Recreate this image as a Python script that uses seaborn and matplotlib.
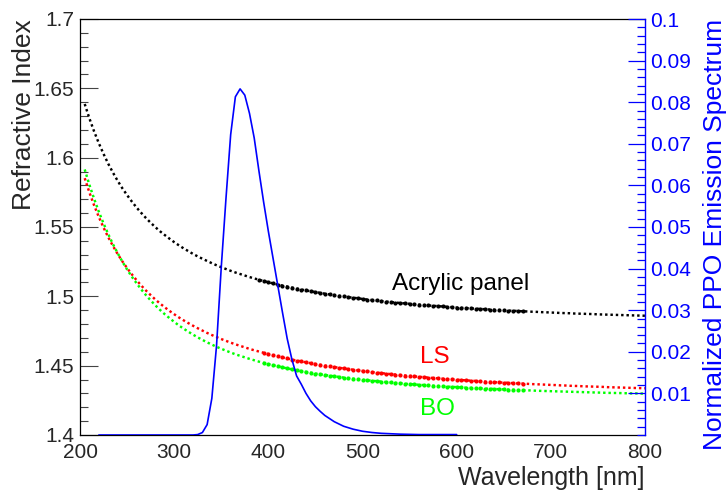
import numpy as np
import matplotlib
matplotlib.use("Agg")
import matplotlib.pyplot as plt
from matplotlib import ticker
import seaborn as sns

# Refractive index curves, sampled every 5 nm from 205 to 800 nm
wavelength_nm = np.arange(205, 801, 5)

n_acrylic = [
    1.6387, 1.6283, 1.6189, 1.6104, 1.6027, 1.5956, 1.5892, 1.5833, 1.5779, 1.5730,
    1.5684, 1.5641, 1.5602, 1.5565, 1.5531, 1.5499, 1.5469, 1.5442, 1.5416, 1.5391, 1.5368,
    1.5346, 1.5326, 1.5306, 1.5288, 1.5271, 1.5255, 1.5239, 1.5224, 1.5210, 1.5197, 1.5184,
    1.5172, 1.5161, 1.5150, 1.5139, 1.5129, 1.5120, 1.5110, 1.5102, 1.5093, 1.5085, 1.5077,
    1.5070, 1.5063, 1.5056, 1.5049, 1.5043, 1.5036, 1.5031, 1.5025, 1.5019, 1.5014, 1.5009,
    1.5004, 1.4999, 1.4994, 1.4990, 1.4986, 1.4981, 1.4977, 1.4973, 1.4970, 1.4966, 1.4962,
    1.4959, 1.4955, 1.4952, 1.4949, 1.4946, 1.4943, 1.4940, 1.4937, 1.4934, 1.4932, 1.4929,
    1.4927, 1.4924, 1.4922, 1.4919, 1.4917, 1.4915, 1.4913, 1.4911, 1.4909, 1.4907, 1.4905,
    1.4903, 1.4901, 1.4899, 1.4897, 1.4896, 1.4894, 1.4892, 1.4891, 1.4889, 1.4888, 1.4886,
    1.4885, 1.4883, 1.4882, 1.4880, 1.4879, 1.4878, 1.4876, 1.4875, 1.4874, 1.4873, 1.4872,
    1.4870, 1.4869, 1.4868, 1.4867, 1.4866, 1.4865, 1.4864, 1.4863, 1.4862, 1.4861, 1.4860,
]

n_ls = [
    1.5852, 1.5749, 1.5656, 1.5572, 1.5496, 1.5426, 1.5363, 1.5305, 1.5252, 1.5204,
    1.5159, 1.5117, 1.5078, 1.5042, 1.5009, 1.4977, 1.4948, 1.4921, 1.4895, 1.4871, 1.4848,
    1.4827, 1.4807, 1.4788, 1.4770, 1.4753, 1.4736, 1.4721, 1.4706, 1.4692, 1.4679, 1.4666,
    1.4654, 1.4643, 1.4632, 1.4621, 1.4611, 1.4602, 1.4593, 1.4584, 1.4575, 1.4567, 1.4559,
    1.4552, 1.4544, 1.4537, 1.4531, 1.4524, 1.4518, 1.4512, 1.4506, 1.4501, 1.4495, 1.4490,
    1.4485, 1.4480, 1.4475, 1.4471, 1.4466, 1.4462, 1.4458, 1.4454, 1.4450, 1.4446, 1.4443,
    1.4439, 1.4436, 1.4432, 1.4429, 1.4426, 1.4423, 1.4420, 1.4417, 1.4414, 1.4411, 1.4409,
    1.4406, 1.4403, 1.4401, 1.4399, 1.4396, 1.4394, 1.4392, 1.4390, 1.4387, 1.4385, 1.4383,
    1.4381, 1.4379, 1.4378, 1.4376, 1.4374, 1.4372, 1.4371, 1.4369, 1.4367, 1.4366, 1.4364,
    1.4363, 1.4361, 1.4360, 1.4358, 1.4357, 1.4355, 1.4354, 1.4353, 1.4351, 1.4350, 1.4349,
    1.4348, 1.4347, 1.4345, 1.4344, 1.4343, 1.4342, 1.4341, 1.4340, 1.4339, 1.4338, 1.4337,
]

n_bo = [
    1.5915, 1.5804, 1.5703, 1.5610, 1.5526, 1.5448, 1.5376, 1.5311, 1.5250, 1.5194,
    1.5142, 1.5095, 1.5050, 1.5009, 1.4971, 1.4935, 1.4902, 1.4871, 1.4843, 1.4816, 1.4790,
    1.4767, 1.4745, 1.4724, 1.4704, 1.4686, 1.4668, 1.4652, 1.4636, 1.4622, 1.4608, 1.4595,
    1.4582, 1.4571, 1.4560, 1.4549, 1.4539, 1.4529, 1.4520, 1.4511, 1.4503, 1.4495, 1.4488,
    1.4480, 1.4474, 1.4467, 1.4461, 1.4455, 1.4449, 1.4443, 1.4438, 1.4433, 1.4428, 1.4423,
    1.4419, 1.4414, 1.4410, 1.4406, 1.4402, 1.4398, 1.4395, 1.4391, 1.4388, 1.4385, 1.4382,
    1.4379, 1.4376, 1.4373, 1.4370, 1.4367, 1.4365, 1.4362, 1.4360, 1.4358, 1.4355, 1.4353,
    1.4351, 1.4349, 1.4347, 1.4345, 1.4343, 1.4341, 1.4340, 1.4338, 1.4336, 1.4335, 1.4333,
    1.4332, 1.4330, 1.4329, 1.4327, 1.4326, 1.4324, 1.4323, 1.4322, 1.4321, 1.4319, 1.4318,
    1.4317, 1.4316, 1.4315, 1.4314, 1.4313, 1.4312, 1.4311, 1.4310, 1.4309, 1.4308, 1.4307,
    1.4306, 1.4305, 1.4304, 1.4303, 1.4303, 1.4302, 1.4301, 1.4300, 1.4300, 1.4299, 1.4298,
]

# Wavelength windows where measured points are shown
measured_range_acrylic = (390, 670)
measured_range_liquids = (395, 670)

# PPO emission spectrum (normalized)
ppo_wavelength = [220, 240, 260, 280, 300, 310, 320, 325, 330, 335, 340, 345, 350, 355,
                  360, 365, 370, 375, 380, 385, 390, 395, 400, 405, 410, 415, 420, 425,
                  430, 435, 440, 445, 450, 455, 460, 470, 480, 490, 500, 510, 520, 540,
                  560, 600]
ppo_intensity = [0.0, 0.0, 0.0, 0.0, 0.0, 0.0, 0.0, 0.0001, 0.0006, 0.0025, 0.0088, 0.0215,
                 0.0403, 0.0568, 0.0722, 0.0813, 0.0832, 0.0817, 0.0773, 0.0714, 0.0635,
                 0.0560, 0.0490, 0.0425, 0.0360, 0.0295, 0.0232, 0.0182, 0.0142, 0.0122,
                 0.0100, 0.0082, 0.0068, 0.0057, 0.0047, 0.0032, 0.0021, 0.0014, 0.0009,
                 0.0006, 0.0004, 0.0002, 0.0001, 0.0001]

x_ticks = [200, 300, 400, 500, 600, 700, 800]
y_ticks = [1.4, 1.45, 1.5, 1.55, 1.6, 1.65, 1.7]
y2_ticks = [0.01, 0.02, 0.03, 0.04, 0.05, 0.06, 0.07, 0.08, 0.09, 0.1]

sns.set_style("white")
plt.rcParams["font.family"] = ["Liberation Sans", "DejaVu Sans"]

GREEN = "#00ff00"
RED = "#ff0000"
BLUE = "#0000ff"

fig = plt.figure(figsize=(7.27, 4.91), dpi=100)
ax = fig.add_axes([80 / 727, 1 - 435 / 491, 565 / 727, 416 / 491])
ax2 = ax.twinx()

dotted = (0, (1, 1.2))
for values, color in [(n_acrylic, "black"), (n_ls, RED), (n_bo, GREEN)]:
    sns.lineplot(x=wavelength_nm, y=values, ax=ax, color=color, linewidth=1.75,
                 linestyle=dotted, sort=False, estimator=None)

wl = np.asarray(wavelength_nm)
for values, color, (lo, hi) in [(n_acrylic, "black", measured_range_acrylic),
                                (n_ls, RED, measured_range_liquids),
                                (n_bo, GREEN, measured_range_liquids)]:
    sel = (wl >= lo) & (wl <= hi)
    sns.scatterplot(x=wl[sel], y=np.asarray(values)[sel], ax=ax, color=color,
                    s=9, linewidth=0, zorder=3)

sns.lineplot(x=ppo_wavelength, y=ppo_intensity, ax=ax2, color=BLUE, linewidth=1.2,
             sort=False, estimator=None)

# Primary axes: wavelength vs refractive index
ax.set_xlim(200, 800)
ax.set_ylim(1.4, 1.7)
ax.set_xticks(x_ticks)
ax.set_yticks(y_ticks)
ax.xaxis.set_minor_locator(ticker.MultipleLocator(20))
ax.yaxis.set_minor_locator(ticker.MultipleLocator(0.01))
ax.yaxis.set_major_formatter(ticker.FuncFormatter(lambda v, p: f"{v:g}"))
ax.tick_params(axis="x", which="major", direction="in", length=9, width=0.8,
               color="#222222", labelsize=15, pad=6)
ax.tick_params(axis="x", which="minor", direction="in", length=4.5, width=0.8,
               color="#222222")
ax.tick_params(axis="y", which="major", direction="in", length=13, width=0.8,
               color="#444444", labelsize=15, pad=4)
ax.tick_params(axis="y", which="minor", direction="in", length=6, width=0.8,
               color="#444444")
for side in ["left", "bottom", "top"]:
    ax.spines[side].set_color("black")
    ax.spines[side].set_linewidth(0.9)
ax.spines["right"].set_visible(False)

ax.set_xlabel("Wavelength [nm]", fontsize=18, loc="right")
ax.xaxis.set_label_coords(1.0, -0.075)
ax.set_ylabel("Refractive Index", fontsize=19, loc="top")
ax.yaxis.set_label_coords(-0.078, 1.0)

# Secondary axis: PPO emission
ax2.set_ylim(0, 0.1)
ax2.set_yticks(y2_ticks)
ax2.yaxis.set_minor_locator(ticker.MultipleLocator(0.002))
ax2.yaxis.set_major_formatter(ticker.FuncFormatter(lambda v, p: f"{v:g}"))
ax2.tick_params(axis="y", which="major", direction="in", length=12, width=0.9,
                color=BLUE, labelcolor=BLUE, labelsize=15, pad=4)
ax2.tick_params(axis="y", which="minor", direction="in", length=6, width=0.9,
                color=BLUE)
for side in ["left", "bottom", "top"]:
    ax2.spines[side].set_visible(False)
ax2.spines["right"].set_color(BLUE)
ax2.spines["right"].set_linewidth(1.0)
ax2.set_ylabel("Normalized PPO Emission Spectrum", fontsize=19, color=BLUE, loc="top")
ax2.yaxis.set_label_coords(1.102, 1.0)

ax.text(531, 1.5045, "Acrylic panel", fontsize=17.5, color="black", va="baseline")
ax.text(561, 1.4519, "LS", fontsize=17.5, color=RED, va="baseline")
ax.text(561, 1.4144, "BO", fontsize=17.5, color=GREEN, va="baseline")

fig.savefig("out.png", dpi=100)
